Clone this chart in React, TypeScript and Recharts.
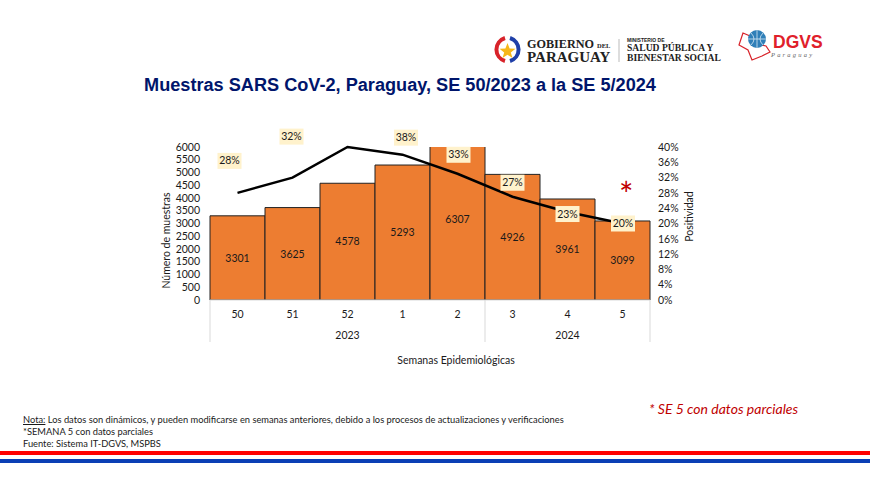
import React from 'react';
import {
  ComposedChart,
  Bar,
  Line,
  XAxis,
  YAxis,
  LabelList,
} from 'recharts';

const weeks = ['50', '51', '52', '1', '2', '3', '4', '5'];
const samples = [3301, 3625, 4578, 5293, 6307, 4926, 3961, 3099];
const positivity = [28, 32, 40, 38, 33, 27, 23, 20];
const shownPositivity = ['28%', '32%', '', '38%', '33%', '27%', '23%', '20%'];
const leftTicks = [0, 500, 1000, 1500, 2000, 2500, 3000, 3500, 4000, 4500, 5000, 5500, 6000];
const rightTicks = [0, 4, 8, 12, 16, 20, 24, 28, 32, 36, 40];
const years = [
  { label: '2023', first: 0, last: 4 },
  { label: '2024', first: 5, last: 7 },
];

const data = weeks.map((week, i) => ({
  week,
  samples: samples[i],
  positivity: positivity[i],
}));

// where each % box sits relative to its line point
const labelDx = [-8, -1, 0, 3.5, 1, 0, 0, 0.5];
const labelDy = [-32, -41, 0, -17, -19, -14, 2, 0];

const FONT = 'Lato, "Open Sans", sans-serif';
const TEXT = '#1a1a1a';
const BAND = 55;

const PctLabel = ({ x, y, index }: any) => {
  const text = shownPositivity[index];
  if (!text) return null;
  const cx = x + labelDx[index];
  const cy = y + labelDy[index];
  return (
    <g>
      <rect x={cx - 12} y={cy - 8} width={24} height={16} fill="#FFF2CC" />
      <text x={cx} y={cy + 3.5} textAnchor="middle" fontSize={10.5} fontFamily={FONT} fill={TEXT}>
        {text}
      </text>
    </g>
  );
};

const WeekTick = ({ x, y, payload, index }: any) => {
  const left = x - BAND / 2;
  const right = x + BAND / 2;
  const year = years.find((item) => item.first === index);
  const mid = years.find((item) => Math.floor((item.first + item.last) / 2) === index);
  return (
    <g>
      {year && <line x1={left} x2={left} y1={300} y2={342} stroke="#d9d9d9" />}
      {index === weeks.length - 1 && <line x1={right} x2={right} y1={300} y2={342} stroke="#d9d9d9" />}
      <text x={x} y={y + 10} textAnchor="middle" fontSize={10.5} fontFamily={FONT} fill={TEXT}>
        {payload.value}
      </text>
      {mid && (
        <text x={x} y={y + 31} textAnchor="middle" fontSize={10.5} fontFamily={FONT} fill={TEXT}>
          {mid.label}
        </text>
      )}
    </g>
  );
};

const Logos = () => (
  <svg width={870} height={100} style={{ position: 'absolute', left: 0, top: 0 }}>
    <path d="M505 38 A12 12 0 0 0 505 61" fill="none" stroke="#d8232a" strokeWidth={4} />
    <path d="M510 38 A12 12 0 0 1 510 61" fill="none" stroke="#1f3fa8" strokeWidth={4} />
    <polygon
      points="507.5,43 509.6,48.6 515.5,48.8 510.8,52.4 512.5,58 507.5,54.8 502.5,58 504.2,52.4 499.5,48.8 505.4,48.6"
      fill="#f6b71a"
    />
    <g fontFamily="'Liberation Serif', serif" fontWeight="bold" fill="#222">
      <text x={527} y={48} fontSize={12.2}>GOBIERNO</text>
      <text x={597} y={48} fontSize={6.5}>DEL</text>
      <text x={527} y={62} fontSize={15}>PARAGUAY</text>
      <text x={627} y={42} fontSize={5} fontFamily="'Liberation Sans', sans-serif">MINISTERIO DE</text>
      <text x={627} y={51} fontSize={9.6}>SALUD PÚBLICA Y</text>
      <text x={627} y={61} fontSize={9.6}>BIENESTAR SOCIAL</text>
    </g>
    <line x1={619} x2={619} y1={39} y2={62} stroke="#bbb" />
    <path
      d="M743 33 L739 45 L748 50 L752 60 L762 56 L770 52 L766 46 L757 44 L750 36 Z"
      fill="none"
      stroke="#d8232a"
      strokeWidth={1.2}
    />
    <circle cx={757} cy={39} r={9} fill="#2f7fb8" />
    <path d="M748 39 H766 M757 30 V48 M751 33 Q757 39 751 45 M763 33 Q757 39 763 45" fill="none" stroke="#d5e8f4" strokeWidth={0.8} />
    <text x={773} y={48} fontSize={17.5} fontWeight="bold" fontFamily="'Liberation Sans', sans-serif" fill="#e0202a">
      DGVS
    </text>
    <text x={771} y={57} fontSize={6.5} fontStyle="italic" fontFamily="'Liberation Serif', serif" fill="#666" letterSpacing={2.2}>
      Paraguay
    </text>
  </svg>
);

const App = () => (
  <div style={{ position: 'absolute', left: 0, top: 0, width: 870, height: 488, background: '#fff', overflow: 'hidden' }}>
    <Logos />
    <div
      style={{
        position: 'absolute',
        left: 0,
        width: 800,
        top: 75,
        textAlign: 'center',
        fontFamily: '"Liberation Sans", sans-serif',
        fontWeight: 'bold',
        fontSize: 18.15,
        color: '#00156B',
        whiteSpace: 'nowrap',
      }}
    >
      Muestras SARS CoV-2, Paraguay, SE 50/2023 a la SE 5/2024
    </div>

    <ComposedChart
      width={870}
      height={488}
      data={data}
      barCategoryGap={0}
      margin={{ top: 147, right: 170, bottom: 128, left: 160 }}
      style={{ position: 'absolute', left: 0, top: 0 }}
    >
      <XAxis
        dataKey="week"
        interval={0}
        height={60}
        tickLine={false}
        axisLine={{ stroke: '#d9d9d9' }}
        tick={<WeekTick />}
        label={{ value: 'Semanas Epidemiológicas', position: 'insideBottom', offset: -4, dx: 26, fontSize: 10.5, fontFamily: FONT, fill: TEXT }}
      />
      <YAxis
        yAxisId="left"
        width={50}
        domain={[0, 6000]}
        ticks={leftTicks}
        interval={0}
        allowDataOverflow
        tickLine={false}
        axisLine={false}
        tickMargin={4}
        tick={{ fontSize: 10.5, fontFamily: FONT, fill: TEXT }}
        label={{ value: 'Número de muestras', angle: -90, position: 'insideLeft', offset: 6, dy: 17, fontSize: 10.5, fontFamily: FONT, fill: TEXT, style: { textAnchor: 'middle' } }}
      />
      <YAxis
        yAxisId="right"
        orientation="right"
        width={50}
        domain={[0, 40]}
        ticks={rightTicks}
        interval={0}
        tickLine={false}
        axisLine={false}
        tickFormatter={(value) => `${value}%`}
        tick={{ fontSize: 10.5, fontFamily: FONT, fill: TEXT }}
        label={{ value: 'Positividad', angle: -90, position: 'insideRight', offset: 11, dy: -7, fontSize: 10.5, fontFamily: FONT, fill: TEXT, style: { textAnchor: 'middle' } }}
      />
      <Bar yAxisId="left" dataKey="samples" fill="#ED7D31" stroke="#222" strokeWidth={1} isAnimationActive={false}>
        <LabelList dataKey="samples" position="center" fontSize={10.5} fontFamily={FONT} fill={TEXT} />
      </Bar>
      <Line
        yAxisId="right"
        dataKey="positivity"
        type="linear"
        stroke="#000"
        strokeWidth={2.5}
        dot={false}
        isAnimationActive={false}
        label={<PctLabel />}
      />
    </ComposedChart>

    <div style={{ position: 'absolute', left: 619, top: 174, fontFamily: FONT, fontSize: 34, lineHeight: '40px', color: '#C00000' }}>*</div>
    <div style={{ position: 'absolute', left: 649, top: 400, fontFamily: FONT, fontStyle: 'italic', fontSize: 14, color: '#C00000', whiteSpace: 'nowrap' }}>
      * SE 5 con datos parciales
    </div>
    <div style={{ position: 'absolute', left: 23, top: 414, fontFamily: FONT, fontSize: 9.3, lineHeight: '12px', color: TEXT, whiteSpace: 'nowrap' }}>
      <div><u>Nota:</u> Los datos son dinámicos, y pueden modificarse en semanas anteriores, debido a los procesos de actualizaciones y verificaciones</div>
      <div>*SEMANA 5 con datos parciales</div>
      <div>Fuente: Sistema IT-DGVS, MSPBS</div>
    </div>
    <div style={{ position: 'absolute', left: 0, top: 451, width: 870, height: 4, background: '#FF0000' }} />
    <div style={{ position: 'absolute', left: 0, top: 459, width: 870, height: 4, background: '#0A3FB5' }} />
  </div>
);

export default App;
